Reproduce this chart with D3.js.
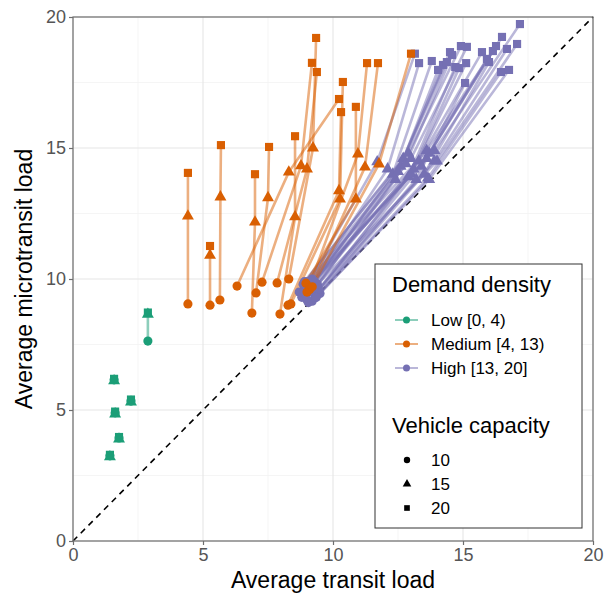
<!DOCTYPE html>
<html>
<head>
<meta charset="utf-8">
<script src="https://cdn.jsdelivr.net/npm/d3@7"></script>
<style>
  body { margin: 0; background: #fff; }
  svg { display: block; font-family: Arial, "Liberation Sans", sans-serif; }
</style>
</head>
<body>
<svg id="chart" width="607" height="599"></svg>
<script>
// categories
const densities = ['Low [0, 4)', 'Medium [4, 13)', 'High [13, 20]'];
const capacities = [10, 15, 20];
const axis_ticks = [0, 5, 10, 15, 20];

// each run: [transit, micro] at capacity 10, then 15, then 20
const low_runs = [
  [1.42, 3.25, 1.42, 3.21, 1.42, 3.29],
  [1.77, 3.93, 1.77, 3.89, 1.77, 3.97],
  [1.62, 4.89, 1.62, 4.85, 1.62, 4.94],
  [2.23, 5.34, 2.23, 5.30, 2.23, 5.40],
  [1.58, 6.15, 1.58, 6.11, 1.58, 6.19],
  [2.88, 7.63, 2.88, 8.65, 2.88, 8.72]
];

const medium_runs = [
  [4.42, 9.05, 4.42, 12.40, 4.42, 14.05],
  [5.27, 9.00, 5.27, 10.90, 5.27, 11.26],
  [5.65, 9.20, 5.67, 13.13, 5.69, 15.11],
  [6.31, 9.73, 8.30, 14.08, 10.23, 16.87],
  [6.88, 8.70, 7.00, 12.17, 7.00, 14.00],
  [7.04, 9.47, 7.50, 13.10, 7.54, 15.04],
  [7.27, 9.88, 8.77, 14.32, 9.19, 18.25],
  [7.85, 9.85, 9.00, 14.20, 9.38, 17.90],
  [7.96, 8.66, 8.54, 12.37, 8.54, 15.45],
  [8.30, 10.00, 9.23, 15.00, 9.35, 19.20],
  [8.27, 9.00, 10.23, 13.37, 10.31, 16.37],
  [8.38, 9.05, 10.27, 13.05, 10.38, 17.52],
  [8.96, 9.84, 10.88, 13.05, 10.88, 16.57],
  [9.00, 9.50, 10.96, 14.77, 11.31, 18.24],
  [9.10, 9.60, 11.23, 14.27, 11.73, 18.24],
  [9.20, 9.70, 11.77, 14.39, 13.00, 18.60]
];

const high_runs = [
  [8.90, 9.60, 11.70, 14.47, 13.15, 18.60],
  [8.80, 9.30, 12.10, 14.20, 13.31, 18.24],
  [8.95, 9.40, 12.30, 14.00, 13.80, 18.32],
  [9.00, 9.20, 12.40, 13.80, 14.04, 17.98],
  [8.70, 9.50, 12.50, 14.10, 14.23, 18.17],
  [9.10, 9.70, 12.60, 14.30, 14.38, 18.28],
  [8.85, 9.80, 12.70, 14.60, 14.50, 18.66],
  [9.20, 9.50, 12.80, 14.40, 14.58, 18.55],
  [9.05, 9.10, 12.90, 13.90, 14.70, 18.09],
  [9.30, 9.40, 13.00, 14.00, 14.85, 18.05],
  [8.90, 9.90, 12.90, 14.80, 14.92, 18.89],
  [9.35, 9.30, 13.20, 13.80, 15.08, 17.48],
  [9.00, 9.60, 13.10, 14.20, 15.12, 18.24],
  [9.15, 9.85, 13.00, 14.60, 15.15, 18.86],
  [9.25, 9.70, 13.30, 14.50, 15.73, 18.66],
  [9.40, 9.50, 13.40, 14.30, 15.92, 18.40],
  [9.20, 9.15, 13.50, 14.00, 16.00, 18.28],
  [9.10, 9.75, 13.60, 14.60, 16.15, 18.70],
  [9.30, 9.90, 13.70, 14.80, 16.27, 18.89],
  [9.50, 9.45, 13.65, 13.85, 16.46, 17.90],
  [9.00, 9.90, 13.60, 14.90, 16.50, 19.24],
  [9.45, 9.60, 13.90, 14.50, 16.69, 18.78],
  [9.35, 9.30, 13.70, 13.80, 16.77, 17.98],
  [9.40, 9.80, 14.00, 14.50, 17.08, 18.97],
  [9.20, 10.00, 13.90, 14.90, 17.19, 19.73]
];

const density_colors = ['#1b9e77', '#d95f02', '#7570b3'];
const capacity_shapes = [d3.symbolCircle, d3.symbolTriangle, d3.symbolSquare];
const capacity_sizes = [66, 62, 66];

const svg = d3.select('#chart');

const x_scale = d3.scaleLinear().domain([0, 20]).range([73, 593]);
const y_scale = d3.scaleLinear().domain([0, 20]).range([541, 17]);

// grid
const minor_ticks = [2.5, 7.5, 12.5, 17.5];
const grid = svg.append('g');
grid.selectAll('.vminor').data(minor_ticks).enter().append('line')
  .attr('x1', d => x_scale(d)).attr('x2', d => x_scale(d))
  .attr('y1', y_scale(0)).attr('y2', y_scale(20))
  .attr('stroke', '#f2f2f2').attr('stroke-width', 0.8);
grid.selectAll('.hminor').data(minor_ticks).enter().append('line')
  .attr('y1', d => y_scale(d)).attr('y2', d => y_scale(d))
  .attr('x1', x_scale(0)).attr('x2', x_scale(20))
  .attr('stroke', '#f2f2f2').attr('stroke-width', 0.8);
grid.selectAll('.vmajor').data(axis_ticks).enter().append('line')
  .attr('x1', d => x_scale(d)).attr('x2', d => x_scale(d))
  .attr('y1', y_scale(0)).attr('y2', y_scale(20))
  .attr('stroke', '#e6e6e6').attr('stroke-width', 1.1);
grid.selectAll('.hmajor').data(axis_ticks).enter().append('line')
  .attr('y1', d => y_scale(d)).attr('y2', d => y_scale(d))
  .attr('x1', x_scale(0)).attr('x2', x_scale(20))
  .attr('stroke', '#e6e6e6').attr('stroke-width', 1.1);

// identity line
svg.append('line')
  .attr('x1', x_scale(0)).attr('y1', y_scale(0))
  .attr('x2', x_scale(20)).attr('y2', y_scale(20))
  .attr('stroke', '#000').attr('stroke-width', 1.6)
  .attr('stroke-dasharray', '6,5');

// build runs
let runs = [];
[low_runs, medium_runs, high_runs].forEach((group, gi) => {
  group.forEach(r => {
    runs.push({
      density: gi,
      pts: capacities.map((c, ci) => ({ x: r[ci * 2], y: r[ci * 2 + 1], cap: ci, density: gi }))
    });
  });
});

let line = d3.line().x(d => x_scale(d.x)).y(d => y_scale(d.y));

// lines: high, medium, low
const line_order = [2, 1, 0];
svg.append('g').selectAll('path')
  .data(line_order.flatMap(g => runs.filter(r => r.density == g)))
  .enter().append('path')
  .attr('d', d => line(d.pts))
  .attr('fill', 'none')
  .attr('stroke', d => density_colors[d.density])
  .attr('stroke-opacity', 0.5)
  .attr('stroke-width', 2.6);

// points
const pts = line_order.flatMap(g => runs.filter(r => r.density == g).flatMap(r => r.pts));
svg.append('g').selectAll('path')
  .data(pts)
  .enter().append('path')
  .attr('transform', d => `translate(${x_scale(d.x)},${y_scale(d.y)})`)
  .attr('d', d => d3.symbol().type(capacity_shapes[d.cap]).size(capacity_sizes[d.cap])())
  .attr('fill', d => density_colors[d.density]);

// panel border
svg.append('rect')
  .attr('x', x_scale(0)).attr('y', y_scale(20))
  .attr('width', x_scale(20) - x_scale(0)).attr('height', y_scale(0) - y_scale(20))
  .attr('fill', 'none').attr('stroke', '#6e6e6e').attr('stroke-width', 1.2);

// axes
let x_axis = d3.axisBottom(x_scale).tickValues(axis_ticks).tickSize(4).tickPadding(3);
let y_axis = d3.axisLeft(y_scale).tickValues(axis_ticks).tickSize(4).tickPadding(3);

let gx = svg.append('g').attr('transform', `translate(0, ${y_scale(0)})`).call(x_axis);
let gy = svg.append('g').attr('transform', `translate(${x_scale(0)}, 0)`).call(y_axis);
[gx, gy].forEach(g => {
  g.select('.domain').remove();
  g.selectAll('line').attr('stroke', '#6e6e6e').attr('stroke-width', 1.2);
  g.selectAll('text').attr('fill', '#555').style('font-size', '18px')
    .style('font-family', 'Arial, "Liberation Sans", sans-serif');
});

svg.append('text')
  .attr('x', (x_scale(0) + x_scale(20)) / 2).attr('y', 588)
  .attr('text-anchor', 'middle')
  .style('font-size', '23px').attr('fill', '#000')
  .text('Average transit load');

svg.append('text')
  .attr('transform', `translate(32, ${(y_scale(0) + y_scale(20)) / 2}) rotate(-90)`)
  .attr('text-anchor', 'middle')
  .style('font-size', '23px').attr('fill', '#000')
  .text('Average microtransit load');

// legend
let legend = svg.append('g');
legend.append('rect')
  .attr('x', 375).attr('y', 264).attr('width', 207).attr('height', 264)
  .attr('fill', '#fff').attr('stroke', '#333').attr('stroke-width', 1);

legend.append('text').attr('x', 392).attr('y', 292)
  .style('font-size', '22px').text('Demand density');

densities.forEach((name, i) => {
  let cy = 320 + i * 24;
  legend.append('line').attr('x1', 395).attr('x2', 418).attr('y1', cy).attr('y2', cy)
    .attr('stroke', density_colors[i]).attr('stroke-opacity', 0.5).attr('stroke-width', 2);
  legend.append('circle').attr('cx', 406.5).attr('cy', cy).attr('r', 3.5)
    .attr('fill', density_colors[i]);
  legend.append('text').attr('x', 431).attr('y', cy + 6)
    .style('font-size', '17px').text(name);
});

legend.append('text').attr('x', 392).attr('y', 433)
  .style('font-size', '22px').text('Vehicle capacity');

capacities.forEach((cap, i) => {
  let cy = 460 + i * 24;
  legend.append('path')
    .attr('transform', `translate(407, ${cy})`)
    .attr('d', d3.symbol().type(capacity_shapes[i]).size(32)())
    .attr('fill', '#000');
  legend.append('text').attr('x', 431).attr('y', cy + 6)
    .style('font-size', '17px').text(cap);
});
</script>
</body>
</html>
